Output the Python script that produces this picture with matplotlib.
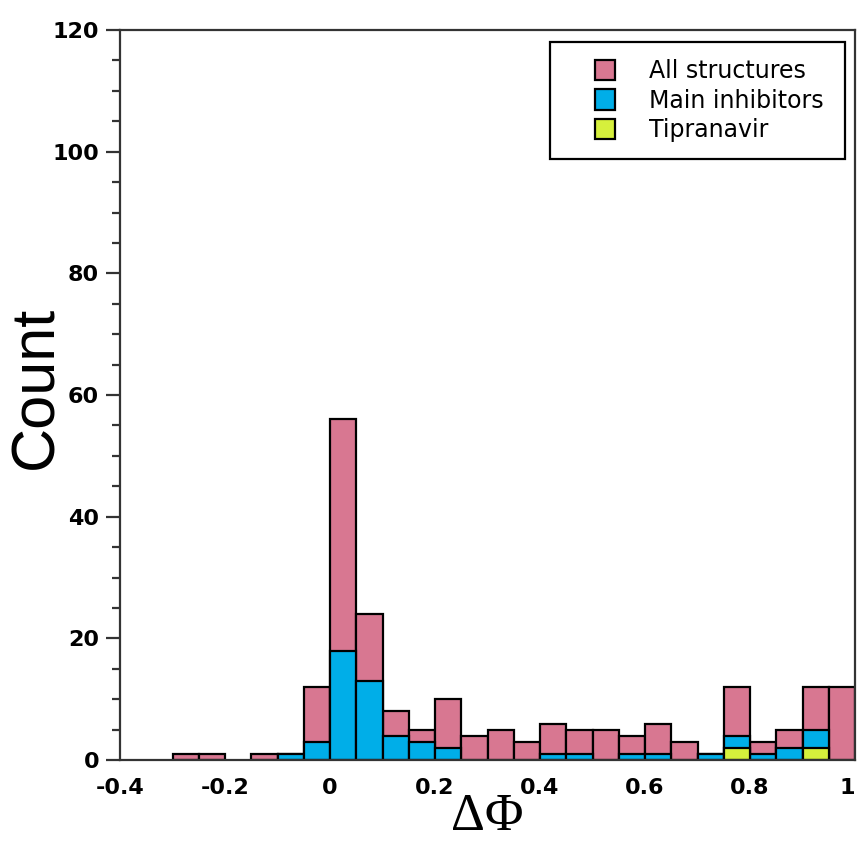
import matplotlib
matplotlib.use("Agg")
import matplotlib.pyplot as plt
from matplotlib.ticker import MultipleLocator, FuncFormatter
from matplotlib.patches import Patch, Rectangle
from matplotlib.legend_handler import HandlerPatch

# ---- data ----
bin_lefts = [-0.30, -0.25, -0.20, -0.15, -0.10, -0.05, 0.00, 0.05, 0.10, 0.15,
             0.20, 0.25, 0.30, 0.35, 0.40, 0.45, 0.50, 0.55, 0.60, 0.65,
             0.70, 0.75, 0.80, 0.85, 0.90, 0.95]
all_structures = [1, 1, 0, 1, 1, 12, 56, 24, 8, 5,
                  10, 4, 5, 3, 6, 5, 5, 4, 6, 3,
                  1, 12, 3, 5, 12, 12]
main_inhibitors = [0, 0, 0, 0, 1, 3, 18, 13, 4, 3,
                   2, 0, 0, 0, 1, 1, 0, 1, 1, 0,
                   1, 4, 1, 2, 5, 0]
tipranavir = [0, 0, 0, 0, 0, 0, 0, 0, 0, 0,
              0, 0, 0, 0, 0, 0, 0, 0, 0, 0,
              0, 2, 0, 0, 2, 0]
series_labels = ["All structures", "Main inhibitors", "Tipranavir"]
x_ticks = [-0.4, -0.2, 0, 0.2, 0.4, 0.6, 0.8, 1.0]
y_ticks = [0, 20, 40, 60, 80, 100, 120]

# ---- style ----
BIN_W = 0.05
PINK = "#d87791"
BLUE = "#00aee8"
YELLOW = "#d6f03c"
colors = [PINK, BLUE, YELLOW]

fig = plt.figure(figsize=(8.6, 8.43), dpi=100)
ax = fig.add_axes([120/860, 83/843, 735/860, 730/843])

for vals, col in zip([all_structures, main_inhibitors, tipranavir], colors):
    xs = [x for x, v in zip(bin_lefts, vals) if v > 0]
    hs = [v for v in vals if v > 0]
    ax.bar(xs, hs, width=BIN_W, align="edge", color=col,
           edgecolor="black", linewidth=1.6)

ax.set_xlim(-0.4, 1.0)
ax.set_ylim(0, 120)
ax.set_xticks(x_ticks)
ax.set_yticks(y_ticks)
ax.yaxis.set_minor_locator(MultipleLocator(5))

def fmt(v, pos):
    s = ("%.1f" % v)
    if s.endswith(".0"):
        s = s[:-2]
    return s

ax.xaxis.set_major_formatter(FuncFormatter(fmt))

for sp in ax.spines.values():
    sp.set_linewidth(1.6)
    sp.set_color("#333333")

ax.tick_params(axis="y", which="major", direction="out", length=10, width=1.6, pad=5, color="#333333")
ax.tick_params(axis="y", which="minor", direction="out", length=6, width=1.6, color="#333333")
ax.tick_params(axis="x", which="both", length=0, pad=13)
for lab in ax.get_xticklabels() + ax.get_yticklabels():
    lab.set_fontfamily("DejaVu Sans")
    lab.set_fontweight("bold")
    lab.set_fontsize(16)
ax.get_xticklabels()[-1].set_horizontalalignment("right")

ax.set_ylabel("Count", fontsize=44, family="Liberation Sans")
ax.yaxis.set_label_coords(-0.074, 0.51)
ax.set_xlabel("\u0394\u03a6", fontsize=38, family="Liberation Serif", labelpad=-4)


def square_right(legend, orig_handle, xdescent, ydescent, width, height, fontsize):
    return Rectangle((-xdescent + width - height, -ydescent), height, height)


handles = [Patch(facecolor=c, edgecolor="black", linewidth=1.6) for c in colors]
leg = ax.legend(handles, series_labels, loc="upper left",
                bbox_to_anchor=(0.585, 0.5, 0.401, 0.4836), mode="expand",
                prop=dict(family="DejaVu Sans", size=17),
                fancybox=False, framealpha=1, edgecolor="black",
                handlelength=2.03, handleheight=0.95, handletextpad=1.44,
                labelspacing=0.23, borderpad=0.73, borderaxespad=0.0,
                handler_map={Patch: HandlerPatch(patch_func=square_right)})
leg.get_frame().set_linewidth(1.6)

fig.savefig("out.png", dpi=100)
